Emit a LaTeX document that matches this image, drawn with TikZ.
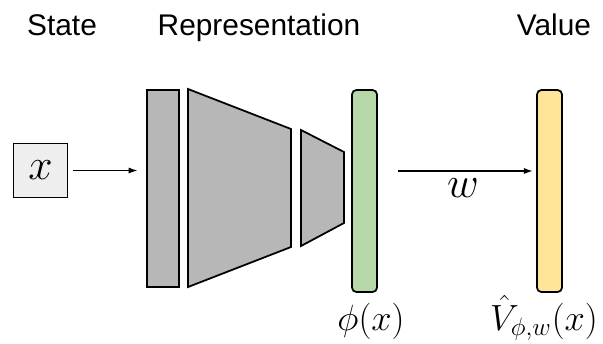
\documentclass[tikz,border=0pt]{standalone}
\usepackage{fontspec}
\setmainfont{Liberation Sans}
\usepackage{tikz}
\usetikzlibrary{arrows.meta,positioning}

\definecolor{layergray}{HTML}{B7B7B7}
\definecolor{inputgray}{HTML}{EEEEEE}
\definecolor{featgreen}{HTML}{B6D7A8}
\definecolor{valueyellow}{HTML}{FFE599}

\tikzset{
  title/.style={font=\fontsize{17}{20}\selectfont, anchor=base},
  mathlbl/.style={font=\fontsize{20}{24}\selectfont, anchor=base},
  layer/.style={draw, line width=1pt, fill=layergray},
  bar/.style={draw, line width=1pt, rounded corners=2.5pt, inner sep=0pt,
    minimum width=0.5cm, minimum height=4.04cm},
  conn/.style={-{Latex[length=5pt,width=3.5pt]}, line width=0.6pt},
}

\begin{document}
\begin{tikzpicture}[x=0.02cm,y=-0.02cm]
\useasboundingbox (0,0) rectangle (603,343);
% headings
\node[title] (state) at (62,35) {State};
\node[title] (repr) at (259,35) {Representation};
\node[title] (value) at (554,35) {Value};
% input state
\node[draw, line width=0.8pt, fill=inputgray, minimum size=1.08cm, inner sep=0pt,
  font=\fontsize{25}{30}\selectfont] (input) at (40.5,170.5) {$x$};
% encoder layers
\node[layer, inner sep=0pt, minimum width=0.64cm, minimum height=3.94cm] (enc) at (163,188.5) {};
\draw[layer] (188,89) -- (291,129) -- (291,247) -- (188,287) -- cycle;
\draw[layer] (301,130) -- (344,152) -- (344,223) -- (301,246) -- cycle;
% features and value
\node[bar, fill=featgreen] (phi) at (364.5,191) {};
\node[bar, fill=valueyellow] (val) at (549.5,191) {};
\node[mathlbl] (philbl) at (371,330) {$\phi(x)$};
\node[mathlbl] (vallbl) at (544,330) {$\hat{V}_{\phi,w}(x)$};
% connections
\draw[conn, shorten <=2.5pt, shorten >=5pt] (input.east) -- (input.east -| enc.west);
\coordinate (wstart) at (398,171);
\draw[conn, shorten >=2pt] (wstart) -- (wstart -| val.west);
\node[font=\fontsize{24}{28}\selectfont, anchor=base] (wlbl) at (463,197) {$w$};
\end{tikzpicture}
\end{document}
